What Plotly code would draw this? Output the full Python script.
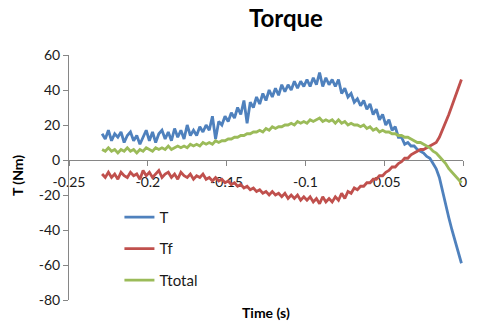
import numpy as np
import plotly.graph_objects as go

# Sample clock: 115 samples, 2 ms apart, ending just before t = 0
t_start = -0.229
t_step = 0.002
time_s = np.round(t_start + t_step * np.arange(115), 3)

torque_T = [
    15, 12, 17, 11, 15, 13, 16, 10, 14, 16,
    11, 14, 9, 13, 17, 11, 16, 10, 15, 17,
    12, 16, 11, 18, 13, 17, 12, 20, 14, 17,
    14, 19, 16, 20, 17, 25, 12, 22, 20, 25,
    22, 27, 24, 30, 26, 34, 21, 33, 30, 36,
    32, 38, 34, 40, 36, 41, 37, 43, 39, 43,
    40, 45, 41, 45, 42, 46, 42, 47, 43, 50,
    42, 47, 43, 46, 42, 46, 38, 41, 36, 38,
    33, 35, 31, 34, 29, 32, 26, 29, 23, 26,
    20, 23, 17, 19, 13, 13, 9, 10, 8, 8,
    6, 5, 4, 2, 1, -2, -5, -10, -18, -25,
    -33, -40, -46, -52, -59,
]

torque_Tf = [
    -8, -10, -7, -10, -8, -11, -7, -9, -10, -7,
    -9, -8, -11, -6, -9, -7, -10, -8, -6, -10,
    -8, -7, -10, -8, -11, -7, -9, -10, -8, -11,
    -9, -10, -8, -11, -10, -12, -10, -12, -11, -13,
    -12, -14, -13, -15, -14, -16, -15, -17, -16, -18,
    -17, -19, -18, -20, -18, -20, -19, -21, -19, -22,
    -20, -22, -20, -23, -21, -23, -21, -24, -22, -25,
    -21, -24, -22, -24, -21, -23, -19, -22, -18, -19,
    -16, -17, -15, -15, -13, -13, -11, -11, -9, -9,
    -7, -6, -4, -4, -2, -1, 1, 1, 3, 4,
    5, 6, 6, 7, 8, 9, 10, 13, 17, 21,
    26, 31, 36, 41, 46,
]

torque_Ttotal = [
    6, 5, 7, 5, 6, 4, 6, 5, 7, 5,
    6, 4, 6, 5, 7, 6, 5, 7, 6, 7,
    6, 8, 6, 7, 8, 7, 8, 7, 9, 8,
    9, 8, 10, 9, 10, 9, 11, 10, 11, 11,
    12, 12, 13, 13, 14, 14, 15, 15, 16, 16,
    17, 16, 18, 17, 19, 18, 19, 19, 20, 20,
    21, 20, 22, 21, 22, 21, 23, 22, 23, 24,
    22, 23, 22, 23, 21, 23, 21, 22, 20, 21,
    20, 20, 19, 20, 18, 19, 17, 18, 16, 17,
    16, 16, 15, 15, 14, 14, 13, 13, 12, 11,
    10, 10, 9, 8, 7, 5, 4, 2, 0, -2,
    -5, -7, -9, -11, -13,
]

x_ticks = [-0.25, -0.2, -0.15, -0.1, -0.05, 0]
x_tick_text = ["-0.25", "-0.2", "-0.15", "-0.1", "-0.05", "0"]
y_ticks = [-80, -60, -40, -20, 0, 20, 40, 60]
y_tick_text = ["-80", "-60", "-40", "-20", "0", "20", "40", "60"]

series = [
    ("T", torque_T, "#4F81BD"),
    ("Tf", torque_Tf, "#C0504D"),
    ("Ttotal", torque_Ttotal, "#9BBB59"),
]

FONT = "Lato, Carlito, Calibri, sans-serif"
AXIS_GREY = "#868686"

fig = go.Figure()
for i, (name, vals, color) in enumerate(series):
    fig.add_trace(go.Scatter(
        x=time_s, y=vals, name=name, mode="lines",
        line=dict(color=color, width=2.8),
        legendgroup=f"g{i}",
    ))

y_min, y_max = -80, 60

fig.update_layout(
    width=480, height=331,
    margin=dict(l=69, r=17, t=55, b=31),
    paper_bgcolor="white", plot_bgcolor="white",
    font=dict(family=FONT, size=14, color="#1a1a1a"),
    showlegend=True,
    legend=dict(
        x=0.128, y=0.405, xanchor="left", yanchor="top",
        bgcolor="rgba(0,0,0,0)", tracegroupgap=9,
        font=dict(family=FONT, size=15, color="#1a1a1a"),
    ),
    xaxis=dict(
        range=[-0.25, 0], tickvals=x_ticks, ticktext=x_tick_text,
        showgrid=False, zeroline=False,
        showline=True, linecolor=AXIS_GREY, linewidth=1,
        ticks="outside", ticklen=5, tickcolor=AXIS_GREY,
        anchor="free", position=(0 - y_min) / (y_max - y_min),
        layer="below traces", ticklabelstandoff=4,
    ),
    yaxis=dict(
        range=[y_min, y_max], tickvals=y_ticks, ticktext=y_tick_text,
        showgrid=False, zeroline=False,
        showline=True, linecolor=AXIS_GREY, linewidth=1,
        ticks="outside", ticklen=5, tickcolor=AXIS_GREY,
    ),
    annotations=[
        dict(text="<b>Torque</b>", xref="paper", yref="paper",
             x=0.552, y=1.155, xanchor="center", yanchor="middle",
             showarrow=False, font=dict(family=FONT, size=24, color="#000")),
        dict(text="<b>Time (s)</b>", xref="paper", yref="paper",
             x=0.5, y=-0.053, xanchor="center", yanchor="middle",
             showarrow=False, font=dict(family=FONT, size=14, color="#000")),
        dict(text="<b>T (Nm)</b>", xref="paper", yref="paper",
             x=-0.132, y=0.51, xanchor="center", yanchor="middle",
             textangle=-90, showarrow=False,
             font=dict(family=FONT, size=14, color="#000")),
    ],
)

fig.write_html("out.html")
